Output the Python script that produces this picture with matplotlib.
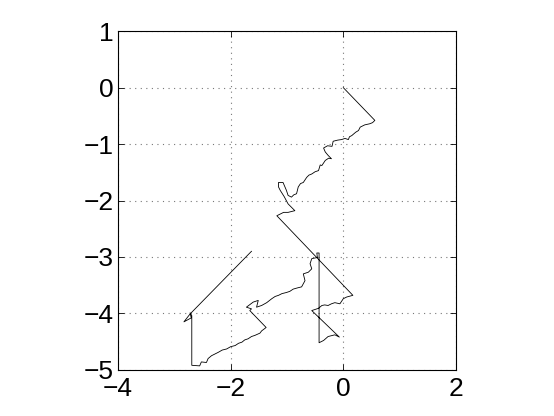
import numpy as np
import matplotlib
matplotlib.use('Agg')
import matplotlib.pyplot as plt

# path of the walk
x = [0.00, 0.56, 0.52, 0.47, 0.38, 0.30, 0.27, 0.22, 0.15, 0.11, 0.09, 0.03, -0.03, -0.10, -0.18, -0.20,
     -0.28, -0.35, -0.32, -0.27, -0.21, -0.26, -0.32, -0.38, -0.41, -0.44, -0.50, -0.56, -0.61, -0.65, -0.71,
     -0.76, -0.80, -0.83, -0.88, -0.92, -0.98, -1.01, -1.07, -1.15, -1.15, -1.12, -1.05, -0.98,
     -0.86, -0.98, -1.06, -1.12, -1.18,
     0.17, 0.06, 0.00, -0.06, -0.15, -0.21, -0.27, -0.33, -0.38, -0.44, -0.56,
     -0.07, -0.15, -0.27, -0.35, -0.43,
     -0.43, -0.47, -0.46, -0.56, -0.59, -0.56, -0.62, -0.71, -0.68, -0.74,
     -0.82, -0.89, -0.95, -1.01, -1.09, -1.15, -1.21, -1.27, -1.36, -1.45, -1.54, -1.51, -1.60, -1.72,
     -1.63, -1.66,
     -1.37, -1.45, -1.48, -1.57, -1.63, -1.69, -1.75, -1.80, -1.86, -1.92, -2.00, -2.07, -2.15, -2.22, -2.34,
     -2.40, -2.43, -2.52, -2.55, -2.69,
     -2.69, -2.72, -2.70, -2.83, -2.72,
     -1.66, -1.63]
y = [0.00, -0.58, -0.62, -0.64, -0.66, -0.70, -0.76, -0.79, -0.85, -0.87, -0.92, -0.90, -0.92, -0.93, -0.95, -1.04,
     -1.03, -1.07, -1.14, -1.20, -1.26, -1.25, -1.29, -1.38, -1.37, -1.47, -1.49, -1.53, -1.55, -1.59, -1.68,
     -1.70, -1.76, -1.88, -1.90, -1.94, -1.91, -1.82, -1.68, -1.68, -1.76, -1.82, -1.93, -2.06,
     -2.18, -2.21, -2.21, -2.24, -2.27,
     -3.68, -3.71, -3.74, -3.83, -3.81, -3.83, -3.86, -3.85, -3.86, -3.91, -3.95,
     -4.42, -4.38, -4.41, -4.48, -4.52,
     -2.93, -2.93, -3.01, -3.03, -3.12, -3.21, -3.27, -3.30, -3.42, -3.53,
     -3.55, -3.57, -3.61, -3.63, -3.65, -3.68, -3.70, -3.74, -3.81, -3.86, -3.89, -3.77, -3.80, -3.89,
     -3.92, -3.95,
     -4.25, -4.31, -4.35, -4.39, -4.41, -4.45, -4.47, -4.51, -4.53, -4.57, -4.59, -4.63, -4.65, -4.69, -4.75,
     -4.80, -4.87, -4.86, -4.93, -4.92,
     -4.04, -3.99, -4.08, -4.15, -4.01,
     -2.93, -2.90]

xticks = [-4, -2, 0, 2]
yticks = [-5, -4, -3, -2, -1, 0, 1]

plt.rcParams['font.family'] = ['Liberation Sans', 'DejaVu Sans']

fig = plt.figure(figsize=(5.54, 4.16), dpi=100)
ax = fig.add_axes([0.213, 0.111, 0.610, 0.814])
ax.plot(x, y, color='black', linewidth=0.6)

ax.set_xlim(-4, 2)
ax.set_ylim(-5, 1)
ax.set_xticks(xticks)
ax.set_yticks(yticks)
ax.set_xticklabels(['\u2212' + str(-t) if t < 0 else str(t) for t in xticks])
ax.set_yticklabels(['\u2212' + str(-t) if t < 0 else str(t) for t in yticks])
ax.tick_params(direction='in', labelsize=19, length=4, width=0.6,
               top=True, right=True)
ax.tick_params(axis='x', pad=5)
ax.tick_params(axis='y', pad=3)
ax.grid(visible=True, linestyle=(0, (1, 4)), color='#777777', linewidth=0.8)
for s in ax.spines.values():
    s.set_linewidth(0.8)

plt.savefig('out.png', dpi=100)
